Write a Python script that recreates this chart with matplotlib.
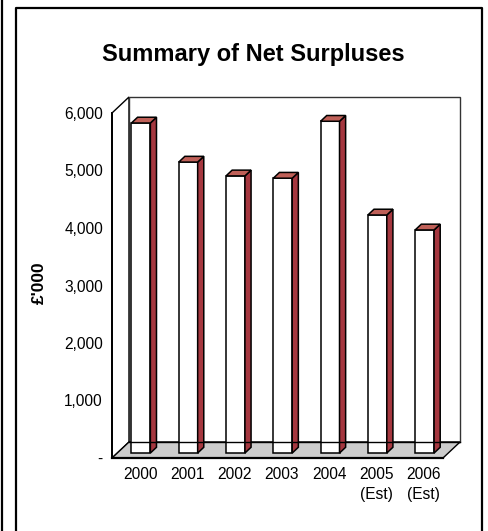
import numpy as np
import matplotlib.pyplot as plt
from matplotlib.patches import Polygon
from matplotlib.lines import Line2D

plt.rcParams['font.family'] = ['Liberation Sans', 'DejaVu Sans']

# data
years = ['2000', '2001', '2002', '2003', '2004', '2005\n(Est)', '2006\n(Est)']
surplus = [5740, 5060, 4820, 4780, 5770, 4140, 3880]
yticks = [0, 1000, 2000, 3000, 4000, 5000, 6000]
ytick_labels = ['-', '1,000', '2,000', '3,000', '4,000', '5,000', '6,000']

W, H = 488, 531
fig = plt.figure(figsize=(W / 100, H / 100), dpi=100)

# outer frame of the slide
fig.add_artist(Line2D([16 / W, 16 / W, 482 / W, 482 / W], [0, 1 - 8 / H, 1 - 8 / H, 0],
                      transform=fig.transFigure, color='black', lw=1.6))
fig.add_artist(Line2D([1.5 / W, 1.5 / W], [0, 1], transform=fig.transFigure, color='black', lw=1.6))

# front plane of the 3d chart
ax = fig.add_axes([112 / W, (H - 458) / H, 331 / W, 345 / H])
n = len(years)
ax.set_xlim(0, n)
ax.set_ylim(0, 6000)
for s in ax.spines.values():
    s.set_visible(False)
ax.set_xticks([])
ax.set_yticks(yticks)
ax.set_yticklabels(ytick_labels, fontsize=11.2)
ax.tick_params(axis='y', length=0, pad=6.5)

# depth of the floor in data units (17 px right, 16 px up)
dx = 17 / (331 / n)
dy = 16 / (345 / 6000)

# walls and floor
side = Polygon([(0, 0), (dx, dy), (dx, 6000 + dy), (0, 6000)], closed=True,
               facecolor='white', edgecolor='black', lw=1.0, clip_on=False, zorder=1)
back = Polygon([(dx, dy), (n + dx, dy), (n + dx, 6000 + dy), (dx, 6000 + dy)], closed=True,
               facecolor='white', edgecolor='#333333', lw=1.0, clip_on=False, zorder=1)
floor = Polygon([(0, 0), (n, 0), (n + dx, dy), (dx, dy)], closed=True,
                facecolor='#cccccc', edgecolor='black', lw=1.0, clip_on=False, zorder=2)
for p in (side, back, floor):
    ax.add_patch(p)

# bars
bw = 0.40
d0, d1 = 0.31, 0.67
bdx = (d1 - d0) * dx
bdy = (d1 - d0) * dy
for i, v in enumerate(surplus):
    x0 = i + 0.5 - bw / 2 + d0 * dx
    x1 = x0 + bw
    y0 = d0 * dy
    y1 = v + y0
    front = Polygon([(x0, y0), (x1, y0), (x1, y1), (x0, y1)], closed=True,
                    facecolor='white', edgecolor='black', lw=1.1, clip_on=False, zorder=3)
    rside = Polygon([(x1, y0), (x1 + bdx, y0 + bdy), (x1 + bdx, y1 + bdy), (x1, y1)], closed=True,
                    facecolor='#a5373f', edgecolor='black', lw=1.1, clip_on=False, zorder=3)
    top = Polygon([(x0, y1), (x1, y1), (x1 + bdx, y1 + bdy), (x0 + bdx, y1 + bdy)], closed=True,
                  facecolor='#bf6058', edgecolor='black', lw=1.1, clip_on=False, zorder=3)
    for p in (front, rside, top):
        ax.add_patch(p)

# back edge of the floor shows through the bars
ax.plot([dx, n + dx], [dy, dy], color='black', lw=1.0, clip_on=False, zorder=4)
# front axis lines
ax.plot([0, 0], [0, 6000], color='black', lw=1.4, clip_on=False, zorder=5)
ax.plot([0, n], [0, 0], color='black', lw=1.6, clip_on=False, zorder=5)

# category labels
for i, lab in enumerate(years):
    ax.annotate(lab, xy=(i + 0.5, 0), xytext=(3.2, -6.5), textcoords='offset points',
                ha='center', va='top', fontsize=11.2, linespacing=1.45, annotation_clip=False)

ax.set_ylabel("£'000", fontsize=12.5, fontweight='bold')
ax.yaxis.set_label_coords((47 - 112) / 331, (458 - 283) / 345)

fig.text(253 / W, 1 - 55 / H, 'Summary of Net Surpluses', ha='center', va='center',
         fontsize=17, fontweight='bold')

fig.savefig('out.png', dpi=100)
